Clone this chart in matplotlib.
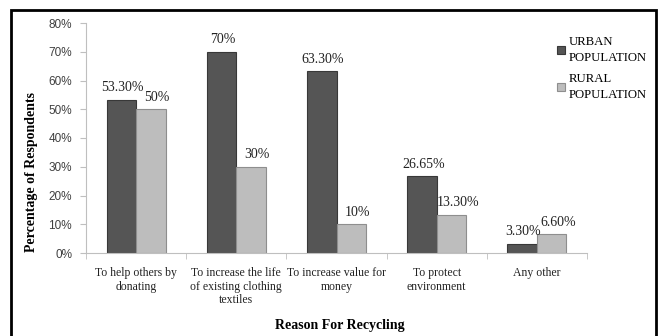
import matplotlib
matplotlib.use("Agg")
import matplotlib.pyplot as plt
import matplotlib.patches as patches
import numpy as np

# Survey results (% of respondents)
reasons = [
    "To help others by\ndonating",
    "To increase the life\nof existing clothing\ntextiles",
    "To increase value for\nmoney",
    "To protect\nenvironment",
    "Any other",
]
urban = [53.30, 70.0, 63.30, 26.65, 3.30]
rural = [50.0, 30.0, 10.0, 13.30, 6.60]
series_names = ["URBAN\nPOPULATION", "RURAL\nPOPULATION"]
yticks = [0, 10, 20, 30, 40, 50, 60, 70, 80]

serif = "Liberation Serif"
sans = "Liberation Sans"


def pct_label(v):
    if float(v).is_integer():
        return "%d%%" % v
    return "%.2f%%" % v


W, H = 659, 336
fig = plt.figure(figsize=(W / 100, H / 100), dpi=100)
ax = fig.add_axes([86 / W, 1 - 253 / H, (587 - 86) / W, (253 - 23) / H])

x = np.arange(len(reasons))
bw = 0.295
b1 = ax.bar(x - bw / 2, urban, bw, color="#555555", edgecolor="#383838",
            linewidth=0.8, label=series_names[0])
b2 = ax.bar(x + bw / 2, rural, bw, color="#bdbdbd", edgecolor="#8e8e8e",
            linewidth=0.8, label=series_names[1])

# value labels above each bar
for xi, v in zip(x - bw / 2, urban):
    ax.annotate(pct_label(v), (xi, v), xytext=(1, 8.5), textcoords="offset points",
                ha="center", va="center", fontsize=10, family=serif, color="#222222")
for xi, v in zip(x + bw / 2, rural):
    ax.annotate(pct_label(v), (xi, v), xytext=(4.5, 8.5), textcoords="offset points",
                ha="center", va="center", fontsize=10, family=serif, color="#222222")

ax.set_xlim(-0.5, len(reasons) - 0.5)
ax.set_ylim(0, 80)
ax.set_yticks(yticks)
ax.set_yticklabels(["%d%%" % t for t in yticks], family=sans, fontsize=8.5, color="#404040")
ax.set_xticks(x)
ax.set_xticklabels(reasons, family=serif, fontsize=8.5, color="#222222", linespacing=1.2)
ax.set_xticks(np.arange(len(reasons) + 1) - 0.5, minor=True)
ax.tick_params(axis="x", which="major", length=0, pad=10)
ax.tick_params(axis="x", which="minor", length=4, color="#bfbfbf", direction="out")
ax.tick_params(axis="y", length=4, color="#bfbfbf", direction="out", pad=6)

for side in ["top", "right"]:
    ax.spines[side].set_visible(False)
for side in ["left", "bottom"]:
    ax.spines[side].set_color("#bfbfbf")
    ax.spines[side].set_linewidth(0.8)

fig.text(32 / W, 1 - 172 / H, "Percentage of Respondents", rotation=90,
         ha="center", va="center", family=serif, fontsize=10, fontweight="bold")
fig.text(340 / W, 1 - 325 / H, "Reason For Recycling",
         ha="center", va="center", family=serif, fontsize=10, fontweight="bold")

leg = fig.legend(handles=[b1, b2], loc="upper left", bbox_to_anchor=(552 / W, 1 - 31 / H),
                 frameon=False, prop={"family": serif, "size": 9.2}, handlelength=0.6,
                 handleheight=0.6, handletextpad=0.3, labelspacing=0.75, borderaxespad=0)
for t in leg.get_texts():
    t.set_linespacing(1.4)

# black frame around the whole chart
fig.patches.append(patches.Rectangle((11 / W, -0.1), (656 - 11) / W, 1.1 - 10 / H,
                                     transform=fig.transFigure, fill=False,
                                     edgecolor="black", linewidth=2))

fig.savefig("out.png", dpi=100)
